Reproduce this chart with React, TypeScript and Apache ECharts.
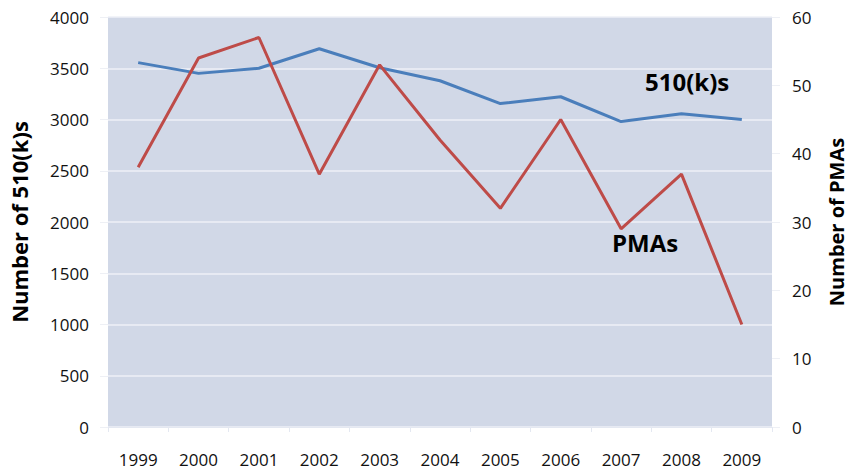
import React, { useEffect, useRef } from "react";
import * as echarts from "echarts";

const years = ["1999", "2000", "2001", "2002", "2003", "2004", "2005", "2006", "2007", "2008", "2009"];
const k510 = [3555, 3450, 3500, 3690, 3505, 3378, 3155, 3222, 2980, 3057, 3000];
const pmas = [38, 54, 57, 37, 53, 42, 32, 45, 29, 37, 15];

const FONT = "'Open Sans', 'Liberation Sans', sans-serif";

export default function App() {
  const ref = useRef<HTMLDivElement>(null);
  useEffect(() => {
    if (!ref.current) return;
    const chart = echarts.init(ref.current, null, { renderer: "svg" });
    chart.setOption({
      animation: false,
      backgroundColor: "#ffffff",
      grid: {
        left: 108, right: 78, top: 17, bottom: 45,
        show: true, backgroundColor: "#D1D8E7", borderWidth: 0,
        containLabel: false, outerBoundsMode: "none",
      },
      xAxis: {
        type: "category",
        data: years,
        boundaryGap: true,
        axisLine: { show: true, lineStyle: { color: "#E4E8F1", width: 1 } },
        axisTick: { show: true, length: 5, lineStyle: { color: "#E4E8F1" } },
        axisLabel: { color: "#111", fontSize: 17, fontFamily: FONT, margin: 24 },
      },
      yAxis: [
        {
          type: "value",
          min: 0,
          max: 4000,
          interval: 500,
          name: "Number of 510(k)s",
          nameLocation: "middle",
          nameGap: 78,
          nameTextStyle: { color: "#000", fontSize: 22, fontWeight: "bold", fontFamily: FONT },
          axisLine: { show: false },
          axisTick: { show: true, length: 8, lineStyle: { color: "#EEF0F5" } },
          axisLabel: { color: "#111", fontSize: 17, fontFamily: FONT, margin: 19, formatter: (v: number) => String(v) },
          splitLine: { show: true, lineStyle: { color: "#EEF1F7", width: 1.5 } },
        },
        {
          type: "value",
          min: 0,
          max: 60,
          interval: 10,
          name: "Number of PMAs",
          nameLocation: "middle",
          nameGap: 53,
          nameRotate: 90,
          nameTextStyle: { color: "#000", fontSize: 20, fontWeight: "bold", fontFamily: FONT, lineHeight: 22 },
          axisLine: { show: false },
          axisTick: { show: true, length: 8, lineStyle: { color: "#EEF0F5" } },
          axisLabel: { color: "#111", fontSize: 17, fontFamily: FONT, margin: 20, formatter: (v: number) => String(v) },
          splitLine: { show: false },
        },
      ],
      series: [
        {
          name: "510(k)s",
          type: "line",
          data: k510,
          yAxisIndex: 0,
          symbol: "none",
          lineStyle: { color: "#4A7EBB", width: 3 },
        },
        {
          name: "PMAs",
          type: "line",
          data: pmas,
          yAxisIndex: 1,
          symbol: "none",
          lineStyle: { color: "#BE4B48", width: 3 },
        },
      ],
      graphic: [
        {
          type: "text",
          left: 645,
          top: 69,
          style: { text: "510(k)s", fontSize: 24, fontWeight: "bold", fontFamily: FONT, fill: "#000" },
        },
        {
          type: "text",
          left: 612,
          top: 230,
          style: { text: "PMAs", fontSize: 24, fontWeight: "bold", fontFamily: FONT, fill: "#000" },
        },
      ],
    });
    return () => chart.dispose();
  }, []);
  return <div ref={ref} style={{ width: 850, height: 472, position: "absolute", left: 0, top: 0 }} />;
}
